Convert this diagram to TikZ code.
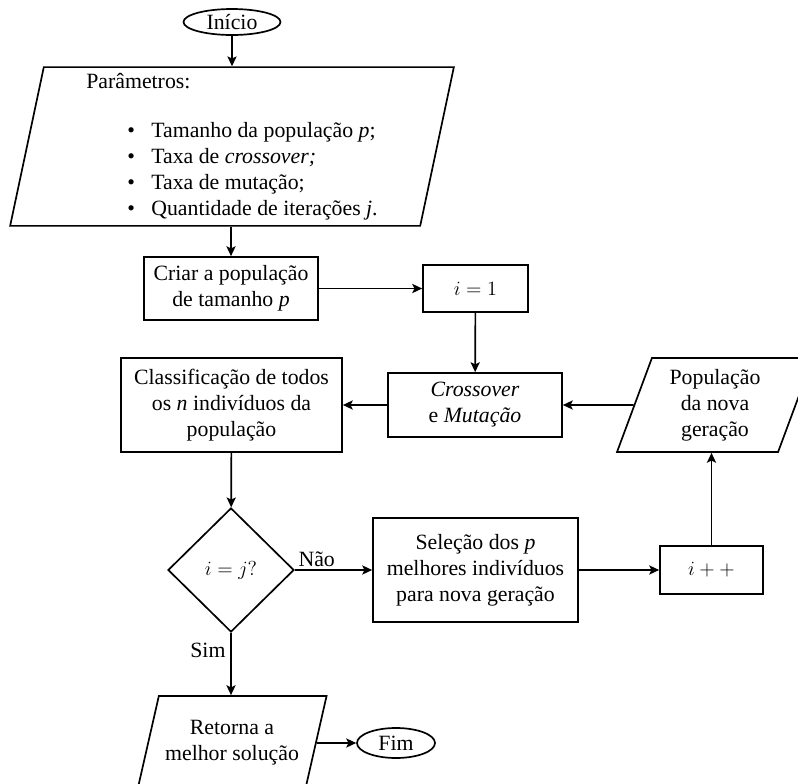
\documentclass[tikz,border=0pt]{standalone}
\usepackage{fontspec}
\setmainfont{Liberation Serif}
\usetikzlibrary{arrows.meta, shapes.geometric, positioning}

\begin{document}
\begin{tikzpicture}[->,>={Stealth[length=7pt,width=6.5pt,inset=1.5pt]},x=0.025cm,y=-0.025cm,
                    line width=1.2pt,every node/.style={font=\fontsize{15.5}{18.5}\selectfont}]
        \tikzstyle{box}=[draw,rectangle,align=center,inner sep=2pt]
        \tikzstyle{term}=[draw,ellipse,inner sep=0pt]
        \tikzstyle{io}=[draw,trapezium,trapezium left angle=71,trapezium right angle=109,
                        trapezium stretches=true,align=center,inner sep=2pt]
        \tikzstyle{decision}=[draw,diamond,inner sep=0pt]

        \useasboundingbox (0,0) rectangle (798,784);

        \node[term,minimum width=2.425cm,minimum height=0.65cm] (inicio) at (232,22) {Início};
        \node[io,trapezium left angle=80.5,trapezium right angle=99.5,
              minimum width=11.1cm,minimum height=3.925cm] (param) at (232,146.5)
              {\begin{tabular}{@{}l@{}}
               Parâmetros:\\[0.575cm]
               \hspace*{1.025cm}\makebox[0.6cm][l]{\textbullet}Tamanho da população \textit{p};\\
               \hspace*{1.025cm}\makebox[0.6cm][l]{\textbullet}Taxa de \textit{crossover;}\\
               \hspace*{1.025cm}\makebox[0.6cm][l]{\textbullet}Taxa de mutação;\\
               \hspace*{1.025cm}\makebox[0.6cm][l]{\textbullet}Quantidade de iterações \textit{j}.
               \end{tabular}};
        \node[box,minimum width=4.35cm,minimum height=1.575cm] (criar) at (231,288.5)
              {Criar a população\\de tamanho \textit{p}};
        \node[box,minimum width=2.625cm,minimum height=1.175cm] (inicial) at (475.5,288.5) {$i=1$};
        \node[box,minimum width=5.525cm,minimum height=2.35cm] (classif) at (231.5,405)
              {Classificação de todos\\os \textit{n} indivíduos da\\população};
        \node[box,minimum width=4.35cm,minimum height=1.6cm] (cross) at (475,405)
              {\textit{Crossover}\\e \textit{Mutação}};
        \node[io,minimum width=4.9cm,minimum height=2.35cm] (pop) at (715,405)
              {População\\da nova\\geração};
        \node[decision,minimum width=3.15cm,minimum height=3.1cm] (teste) at (231,570) {$i=j?$};
        \node[box,minimum width=5.125cm,minimum height=2.6cm] (selecao) at (475.5,570)
              {Seleção dos \textit{p}\\melhores indivíduos\\para nova geração};
        \node[box,minimum width=2.575cm,minimum height=1.2cm] (incr) at (711.5,570) {$i++$};
        \node[io,inner xsep=-10pt,inner ysep=0pt,minimum width=4.775cm,minimum height=2.35cm]
              (retorna) at (232,743) {Retorna a\\melhor solução};
        \node[term,minimum width=1.95cm,minimum height=0.75cm] (fim) at (396,743) {Fim};

        \draw (inicio) -- (inicio.south |- param.north);
        \draw (param.south -| criar.north) -- (criar);
        \draw (criar) -- (inicial);
        \draw (inicial) -- (cross);
        \draw (cross) -- (classif);
        \draw (pop) -- (cross);
        \draw (classif) -- (teste);
        \draw (teste) -- node[pos=0,anchor=south west,inner sep=2pt] {Não} (selecao);
        \draw (selecao) -- (incr);
        \draw (incr) -- (incr.north |- pop.south);
        \draw (teste) -- node[left,pos=0.28] {Sim} (teste.south |- retorna.north);
        \draw (retorna) -- (fim);
    \end{tikzpicture}
\end{document}
